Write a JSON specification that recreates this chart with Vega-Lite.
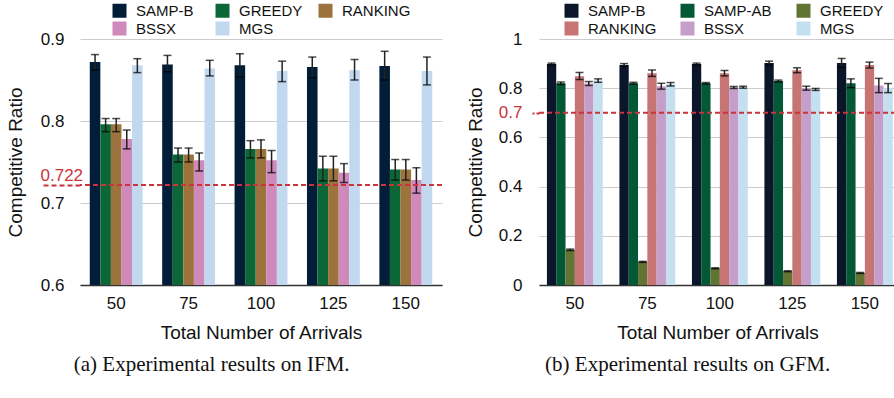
{
  "$schema": "https://vega.github.io/schema/vega-lite/v6.json",
  "padding": {"top": 3, "left": 6, "right": 0, "bottom": 5},
  "spacing": 23,
  "config": {
    "font": "Liberation Sans",
    "view": {"stroke": null},
    "axis": {"labelColor": "#111", "titleColor": "#111", "labelFontSize": 17, "titleFontSize": 19, "titleFontWeight": "normal"},
    "legend": {"labelColor": "#111"}
  },
  "datasets": {
    "ifm": [
      {"arrivals": "50", "method": "SAMP-B", "value": 0.872, "lo": 0.862, "hi": 0.881},
      {"arrivals": "50", "method": "GREEDY", "value": 0.796, "lo": 0.787, "hi": 0.803},
      {"arrivals": "50", "method": "RANKING", "value": 0.796, "lo": 0.787, "hi": 0.803},
      {"arrivals": "50", "method": "BSSX", "value": 0.778, "lo": 0.766, "hi": 0.789},
      {"arrivals": "50", "method": "MGS", "value": 0.868, "lo": 0.859, "hi": 0.876},
      {"arrivals": "75", "method": "SAMP-B", "value": 0.869, "lo": 0.860, "hi": 0.880},
      {"arrivals": "75", "method": "GREEDY", "value": 0.759, "lo": 0.750, "hi": 0.767},
      {"arrivals": "75", "method": "RANKING", "value": 0.759, "lo": 0.750, "hi": 0.767},
      {"arrivals": "75", "method": "BSSX", "value": 0.752, "lo": 0.739, "hi": 0.761},
      {"arrivals": "75", "method": "MGS", "value": 0.864, "lo": 0.855, "hi": 0.874},
      {"arrivals": "100", "method": "SAMP-B", "value": 0.868, "lo": 0.854, "hi": 0.882},
      {"arrivals": "100", "method": "GREEDY", "value": 0.766, "lo": 0.755, "hi": 0.776},
      {"arrivals": "100", "method": "RANKING", "value": 0.766, "lo": 0.755, "hi": 0.777},
      {"arrivals": "100", "method": "BSSX", "value": 0.752, "lo": 0.737, "hi": 0.764},
      {"arrivals": "100", "method": "MGS", "value": 0.861, "lo": 0.848, "hi": 0.873},
      {"arrivals": "125", "method": "SAMP-B", "value": 0.866, "lo": 0.853, "hi": 0.878},
      {"arrivals": "125", "method": "GREEDY", "value": 0.742, "lo": 0.727, "hi": 0.757},
      {"arrivals": "125", "method": "RANKING", "value": 0.742, "lo": 0.727, "hi": 0.757},
      {"arrivals": "125", "method": "BSSX", "value": 0.737, "lo": 0.725, "hi": 0.748},
      {"arrivals": "125", "method": "MGS", "value": 0.862, "lo": 0.850, "hi": 0.875},
      {"arrivals": "150", "method": "SAMP-B", "value": 0.867, "lo": 0.850, "hi": 0.885},
      {"arrivals": "150", "method": "GREEDY", "value": 0.741, "lo": 0.728, "hi": 0.753},
      {"arrivals": "150", "method": "RANKING", "value": 0.741, "lo": 0.728, "hi": 0.753},
      {"arrivals": "150", "method": "BSSX", "value": 0.728, "lo": 0.712, "hi": 0.743},
      {"arrivals": "150", "method": "MGS", "value": 0.861, "lo": 0.844, "hi": 0.878}
    ],
    "gfm": [
      {"arrivals": "50", "method": "SAMP-B", "value": 0.898, "lo": 0.894, "hi": 0.902},
      {"arrivals": "50", "method": "SAMP-AB", "value": 0.820, "lo": 0.815, "hi": 0.825},
      {"arrivals": "50", "method": "GREEDY", "value": 0.143, "lo": 0.140, "hi": 0.146},
      {"arrivals": "50", "method": "RANKING", "value": 0.849, "lo": 0.835, "hi": 0.864},
      {"arrivals": "50", "method": "BSSX", "value": 0.819, "lo": 0.811, "hi": 0.827},
      {"arrivals": "50", "method": "MGS", "value": 0.831, "lo": 0.824, "hi": 0.838},
      {"arrivals": "75", "method": "SAMP-B", "value": 0.894, "lo": 0.888, "hi": 0.900},
      {"arrivals": "75", "method": "SAMP-AB", "value": 0.820, "lo": 0.816, "hi": 0.824},
      {"arrivals": "75", "method": "GREEDY", "value": 0.094, "lo": 0.092, "hi": 0.096},
      {"arrivals": "75", "method": "RANKING", "value": 0.861, "lo": 0.848, "hi": 0.874},
      {"arrivals": "75", "method": "BSSX", "value": 0.808, "lo": 0.796, "hi": 0.820},
      {"arrivals": "75", "method": "MGS", "value": 0.816, "lo": 0.809, "hi": 0.823},
      {"arrivals": "100", "method": "SAMP-B", "value": 0.898, "lo": 0.894, "hi": 0.902},
      {"arrivals": "100", "method": "SAMP-AB", "value": 0.820, "lo": 0.817, "hi": 0.823},
      {"arrivals": "100", "method": "GREEDY", "value": 0.068, "lo": 0.066, "hi": 0.070},
      {"arrivals": "100", "method": "RANKING", "value": 0.861, "lo": 0.850, "hi": 0.872},
      {"arrivals": "100", "method": "BSSX", "value": 0.803, "lo": 0.799, "hi": 0.807},
      {"arrivals": "100", "method": "MGS", "value": 0.804, "lo": 0.800, "hi": 0.808},
      {"arrivals": "125", "method": "SAMP-B", "value": 0.902, "lo": 0.894, "hi": 0.910},
      {"arrivals": "125", "method": "SAMP-AB", "value": 0.829, "lo": 0.825, "hi": 0.833},
      {"arrivals": "125", "method": "GREEDY", "value": 0.056, "lo": 0.054, "hi": 0.058},
      {"arrivals": "125", "method": "RANKING", "value": 0.873, "lo": 0.863, "hi": 0.883},
      {"arrivals": "125", "method": "BSSX", "value": 0.800, "lo": 0.792, "hi": 0.808},
      {"arrivals": "125", "method": "MGS", "value": 0.795, "lo": 0.791, "hi": 0.799},
      {"arrivals": "150", "method": "SAMP-B", "value": 0.902, "lo": 0.885, "hi": 0.921},
      {"arrivals": "150", "method": "SAMP-AB", "value": 0.820, "lo": 0.802, "hi": 0.838},
      {"arrivals": "150", "method": "GREEDY", "value": 0.049, "lo": 0.047, "hi": 0.051},
      {"arrivals": "150", "method": "RANKING", "value": 0.894, "lo": 0.882, "hi": 0.906},
      {"arrivals": "150", "method": "BSSX", "value": 0.811, "lo": 0.782, "hi": 0.840},
      {"arrivals": "150", "method": "MGS", "value": 0.801, "lo": 0.782, "hi": 0.819}
    ],
    "refA": [{"ref": 0.722}],
    "refB": [{"ref": 0.7}]
  },
  "resolve": {"scale": {"color": "independent", "x": "independent", "y": "independent", "xOffset": "independent"}, "legend": {"color": "independent"}},
  "hconcat": [
    {
      "width": 362,
      "height": 246,
      "title": {"text": "(a) Experimental results on IFM.", "orient": "bottom", "anchor": "middle", "frame": "bounds", "font": "Liberation Serif", "fontSize": 21, "fontWeight": "normal", "color": "#111", "offset": 12, "dx": -13},
      "resolve": {"axis": {"y": "independent"}},
      "layer": [
        {
          "data": {"name": "ifm"},
          "mark": {"type": "bar", "clip": true},
          "encoding": {
            "x": {"field": "arrivals", "type": "nominal", "scale": {"domain": ["50", "75", "100", "125", "150"], "paddingInner": 0.27, "paddingOuter": 0.135},
                  "axis": {"title": "Total Number of Arrivals", "labelAngle": 0, "ticks": false, "domainColor": "#333", "domainWidth": 1.5, "labelPadding": 10, "titlePadding": 12}},
            "xOffset": {"field": "method", "type": "nominal", "scale": {"domain": ["SAMP-B", "GREEDY", "RANKING", "BSSX", "MGS"], "paddingInner": 0, "paddingOuter": 0}},
            "y": {"field": "value", "type": "quantitative", "scale": {"domain": [0.6, 0.9], "zero": false, "nice": false},
                  "axis": {"values": [0.6, 0.7, 0.8, 0.9], "format": ".1f", "grid": true, "gridColor": "#cccccc", "ticks": false, "domain": false, "labelPadding": 16, "title": "Competitive Ratio", "titlePadding": 15}},
            "color": {"field": "method", "type": "nominal",
                      "scale": {"domain": ["SAMP-B", "GREEDY", "RANKING", "BSSX", "MGS"], "range": ["#021d37", "#0c6737", "#9c733c", "#cf89bb", "#c2d8ef"]},
                      "legend": {"orient": "none", "legendX": 32, "legendY": -36, "columns": 3, "direction": "horizontal", "title": null, "symbolType": "square", "symbolSize": 196, "symbolStrokeWidth": 0, "labelFontSize": 15, "labelOffset": 9, "columnPadding": 10, "rowPadding": 2, "gridAlign": "all"}}
          }
        },
        {
          "data": {"name": "ifm"},
          "mark": {"type": "rule", "color": "#222", "strokeWidth": 1.5},
          "encoding": {
            "x": {"field": "arrivals", "type": "nominal"},
            "xOffset": {"field": "method", "type": "nominal"},
            "y": {"field": "lo", "type": "quantitative", "axis": null},
            "y2": {"field": "hi"}
          }
        },
        {
          "data": {"name": "ifm"},
          "mark": {"type": "tick", "color": "#000", "size": 8, "thickness": 1.5},
          "encoding": {
            "x": {"field": "arrivals", "type": "nominal"},
            "xOffset": {"field": "method", "type": "nominal"},
            "y": {"field": "lo", "type": "quantitative", "axis": null}
          }
        },
        {
          "data": {"name": "ifm"},
          "mark": {"type": "tick", "color": "#000", "size": 8, "thickness": 1.5},
          "encoding": {
            "x": {"field": "arrivals", "type": "nominal"},
            "xOffset": {"field": "method", "type": "nominal"},
            "y": {"field": "hi", "type": "quantitative", "axis": null}
          }
        },
        {
          "data": {"name": "refA"},
          "mark": {"type": "rule", "color": "#c8353a", "strokeWidth": 2, "strokeDash": [5, 3]},
          "encoding": {
            "y": {"field": "ref", "type": "quantitative",
                  "axis": {"orient": "left", "values": [0.722], "format": ".3f", "title": null, "domain": false, "grid": false, "ticks": true, "tickSize": 40, "tickColor": "#c8353a", "tickWidth": 2, "tickDash": [5, 3], "labelColor": "#c8353a", "labelAlign": "left", "labelPadding": 0, "labelBaseline": "alphabetic", "labelOffset": -4}}
          }
        }
      ]
    },
    {
      "width": 357,
      "height": 246,
      "title": {"text": "(b) Experimental results on GFM.", "orient": "bottom", "anchor": "middle", "frame": "bounds", "font": "Liberation Serif", "fontSize": 21, "fontWeight": "normal", "color": "#111", "offset": 12, "dx": 6},
      "resolve": {"axis": {"y": "independent"}},
      "layer": [
        {
          "data": {"name": "gfm"},
          "mark": {"type": "bar"},
          "encoding": {
            "x": {"field": "arrivals", "type": "nominal", "scale": {"domain": ["50", "75", "100", "125", "150"], "paddingInner": 0.23, "paddingOuter": 0.077, "align": 0.71},
                  "axis": {"title": "Total Number of Arrivals", "labelAngle": 0, "ticks": false, "domainColor": "#333", "domainWidth": 1.5, "labelPadding": 10, "titlePadding": 12}},
            "xOffset": {"field": "method", "type": "nominal", "scale": {"domain": ["SAMP-B", "SAMP-AB", "GREEDY", "RANKING", "BSSX", "MGS"], "paddingInner": 0, "paddingOuter": 0}},
            "y": {"field": "value", "type": "quantitative", "scale": {"domain": [0, 1], "nice": false},
                  "axis": {"values": [0, 0.2, 0.4, 0.6, 0.8, 1], "format": ".1~f", "grid": true, "gridColor": "#cccccc", "ticks": false, "domain": false, "labelPadding": 17, "title": "Competitive Ratio", "titlePadding": 13}},
            "color": {"field": "method", "type": "nominal",
                      "scale": {"domain": ["SAMP-B", "SAMP-AB", "GREEDY", "RANKING", "BSSX", "MGS"], "range": ["#0b162b", "#035835", "#627434", "#c67474", "#c59ec9", "#c3dff0"]},
                      "legend": {"orient": "none", "legendX": 25, "legendY": -36, "columns": 3, "direction": "horizontal", "title": null, "symbolType": "square", "symbolSize": 196, "symbolStrokeWidth": 0, "labelFontSize": 15, "labelOffset": 9, "columnPadding": 23, "rowPadding": 2, "gridAlign": "all"}}
          }
        },
        {
          "data": {"name": "gfm"},
          "mark": {"type": "rule", "color": "#222", "strokeWidth": 1.5},
          "encoding": {
            "x": {"field": "arrivals", "type": "nominal"},
            "xOffset": {"field": "method", "type": "nominal"},
            "y": {"field": "lo", "type": "quantitative", "axis": null},
            "y2": {"field": "hi"}
          }
        },
        {
          "data": {"name": "gfm"},
          "mark": {"type": "tick", "color": "#000", "size": 8, "thickness": 1.5},
          "encoding": {
            "x": {"field": "arrivals", "type": "nominal"},
            "xOffset": {"field": "method", "type": "nominal"},
            "y": {"field": "lo", "type": "quantitative", "axis": null}
          }
        },
        {
          "data": {"name": "gfm"},
          "mark": {"type": "tick", "color": "#000", "size": 8, "thickness": 1.5},
          "encoding": {
            "x": {"field": "arrivals", "type": "nominal"},
            "xOffset": {"field": "method", "type": "nominal"},
            "y": {"field": "hi", "type": "quantitative", "axis": null}
          }
        },
        {
          "data": {"name": "refB"},
          "mark": {"type": "rule", "color": "#c8353a", "strokeWidth": 2, "strokeDash": [5, 3]},
          "encoding": {
            "y": {"field": "ref", "type": "quantitative",
                  "axis": {"orient": "left", "values": [0.7], "format": ".1f", "title": null, "domain": false, "grid": false, "ticks": true, "tickSize": 7, "tickColor": "#c8353a", "tickWidth": 2, "tickDash": [3, 2], "labelColor": "#c8353a", "labelPadding": 10}}
          }
        }
      ]
    }
  ]
}
